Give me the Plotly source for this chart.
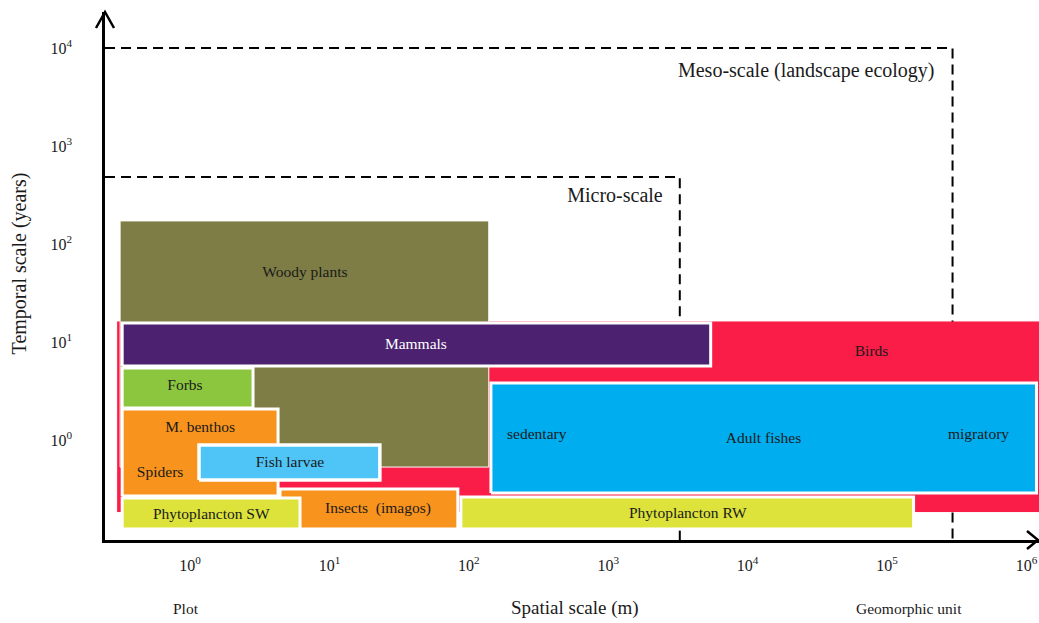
import plotly.graph_objects as go

# ---------------- data (spatial extent in m, temporal extent in years) ----------------
groups = ["Birds", "Woody plants", "Mammals", "Forbs", "M. benthos / Spiders",
          "Fish larvae", "Adult fishes", "Insects (imagos)", "Phytoplancton SW",
          "Phytoplancton RW"]
space_min = [0.300, 0.315, 0.326, 0.326, 0.326, 1.16, 144, 4.42, 0.326, 87.7]
space_max = [1.5e6, 139, 5430, 2.83, 4.28, 23.0, 1.18e6, 83.4, 6.15, 1.55e5]
time_min = [0.184, 0.53, 5.69, 2.12, 0.268, 0.391, 0.288, 0.124, 0.124, 0.124]
time_max = [16.2, 172, 15.6, 5.43, 2.07, 0.889, 3.82, 0.316, 0.256, 0.262]
fill_colors = ["#FA1D48", "#7E7D45", "#4B2170", "#8CC63F", "#F8931D",
               "#4FC4F7", "#00ADEF", "#F8931D", "#DDE33B", "#DDE33B"]
border_widths = [0, 1, 3, 3, 3, 3.5, 3, 3, 3, 3]

labels = ["Woody plants", "Mammals", "Birds", "Forbs", "M. benthos", "Spiders",
          "Fish larvae", "sedentary", "Adult fishes", "migratory",
          "Phytoplancton SW", "Insects  (imagos)", "Phytoplancton RW"]
label_space = [6.67, 41.7, 77400, 0.92, 1.18, 0.61, 5.21, 307, 13000, 453000,
               1.42, 22.3, 3720]
label_time = [50.6, 9.31, 7.91, 3.56, 1.32, 0.46, 0.582, 1.12, 1.02, 1.12,
              0.172, 0.198, 0.176]
label_colors = ["#1a1a1a", "white", "#1a1a1a", "#1a1a1a", "#1a1a1a", "#1a1a1a",
                "#1a1a1a", "#1a1a1a", "#1a1a1a", "#1a1a1a", "#1a1a1a", "#1a1a1a",
                "#1a1a1a"]

scale_names = ["Micro-scale", "Meso-scale (landscape ecology)"]
scale_space_max = [3260, 295000]
scale_time_max = [483, 10000]
scale_label_space = [2460, 219000]
scale_label_time = [302, 5690]

x_tick_vals = [1, 10, 100, 1e3, 1e4, 1e5, 1e6]
x_tick_text = ["10<sup>0</sup>", "10<sup>1</sup>", "10<sup>2</sup>", "10<sup>3</sup>",
               "10<sup>4</sup>", "10<sup>5</sup>", "10<sup>6</sup>"]
y_tick_vals = [1, 10, 100, 1e3, 1e4]
y_tick_text = ["10<sup>0</sup>", "10<sup>1</sup>", "10<sup>2</sup>", "10<sup>3</sup>",
               "10<sup>4</sup>"]

x_range_log = [-0.610, 6.090]
y_range_log = [-1.020, 4.367]

FONT = "Liberation Serif, Times New Roman, serif"

fig = go.Figure()

# dashed scale boxes (under the rectangles)
x_left = 10 ** x_range_log[0]
y_bottom = 10 ** y_range_log[0]
for sx, st in zip(scale_space_max, scale_time_max):
    fig.add_trace(go.Scatter(
        x=[x_left, sx, sx], y=[st, st, y_bottom], mode="lines",
        line=dict(color="black", width=2, dash="10px,6px"),
        hoverinfo="skip", showlegend=False))

# rectangles
for g, x0, x1, y0, y1, c, bw in zip(groups, space_min, space_max, time_min,
                                     time_max, fill_colors, border_widths):
    fig.add_trace(go.Scatter(
        x=[x0, x1, x1, x0, x0], y=[y0, y0, y1, y1, y0], mode="lines",
        fill="toself", fillcolor=c,
        line=dict(color="white" if bw > 0 else c, width=bw if bw > 0 else 0.1),
        name=g, hoverinfo="name", showlegend=False))

# labels inside rectangles
fig.add_trace(go.Scatter(
    x=label_space, y=label_time, mode="text", text=labels,
    textposition="middle center",
    textfont=dict(family=FONT, size=15.5, color=label_colors),
    hoverinfo="skip", showlegend=False))

# scale labels
fig.add_trace(go.Scatter(
    x=scale_label_space, y=scale_label_time, mode="text", text=scale_names,
    textposition="middle left",
    textfont=dict(family=FONT, size=20, color="#1a1a1a"),
    hoverinfo="skip", showlegend=False))

fig.update_layout(
    width=1039, height=623,
    margin=dict(l=105, r=0, t=12, b=83),
    paper_bgcolor="white", plot_bgcolor="white",
    font=dict(family=FONT, color="#1a1a1a"),
    xaxis=dict(type="log", range=x_range_log, showgrid=False, zeroline=False,
               showline=True, linecolor="black", linewidth=2.5,
               tickvals=x_tick_vals, ticktext=x_tick_text, ticks="",
               ticklabelstandoff=9, tickfont=dict(family=FONT, size=16, color="#1a1a1a")),
    yaxis=dict(type="log", range=y_range_log, showgrid=False, zeroline=False,
               showline=True, linecolor="black", linewidth=2.5,
               tickvals=y_tick_vals, ticktext=y_tick_text, ticks="",
               ticklabelstandoff=27, tickfont=dict(family=FONT, size=16, color="#1a1a1a")),
    shapes=[
        dict(type="path", xref="paper", yref="paper", xsizemode="pixel",
             ysizemode="pixel", xanchor=0, yanchor=1,
             path="M -9,-16 L 0,0 L 9,-16", line=dict(color="black", width=2.5)),
        dict(type="path", xref="paper", yref="paper", xsizemode="pixel",
             ysizemode="pixel", xanchor=1, yanchor=0,
             path="M -12,9 L -1,0 L -12,-9", line=dict(color="black", width=2.5)),
    ],
    annotations=[
        dict(text="Temporal scale (years)", xref="paper", yref="paper",
             x=-0.092, y=0.524, xanchor="center", yanchor="middle",
             textangle=-90, showarrow=False,
             font=dict(family=FONT, size=20, color="#1a1a1a")),
        dict(text="Spatial scale (m)", xref="paper", yref="paper",
             x=0.503, y=-0.129, xanchor="center", yanchor="middle", showarrow=False,
             font=dict(family=FONT, size=19, color="#1a1a1a")),
        dict(text="Plot", xref="paper", yref="paper",
             x=0.0867, y=-0.129, xanchor="center", yanchor="middle", showarrow=False,
             font=dict(family=FONT, size=15.5, color="#1a1a1a")),
        dict(text="Geomorphic unit", xref="paper", yref="paper",
             x=0.861, y=-0.129, xanchor="center", yanchor="middle", showarrow=False,
             font=dict(family=FONT, size=15.5, color="#1a1a1a")),
    ],
)

fig.write_html("out.html")
